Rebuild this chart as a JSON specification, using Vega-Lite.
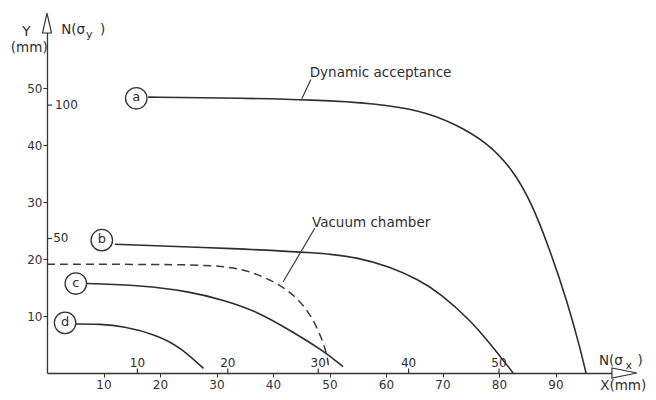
{
  "$schema": "https://vega.github.io/schema/vega-lite/v6.json",
  "autosize": "none",
  "width": 565,
  "height": 342,
  "padding": {"left": 47, "top": 31, "right": 44, "bottom": 27},
  "background": "white",
  "config": {
    "view": {"stroke": null},
    "font": "DejaVu Sans",
    "axis": {"grid": false, "domainColor": "#333", "tickColor": "#333", "labelColor": "#333", "labelFont": "DejaVu Sans", "labelFontSize": 12, "tickSize": 4, "domainWidth": 1.3, "title": null}
  },
  "datasets": {
    "curves": [
      {"curve": "a", "x": 17.9, "y": 48.4}, {"curve": "a", "x": 30, "y": 48.3}, {"curve": "a", "x": 48.3, "y": 47.9}, {"curve": "a", "x": 58, "y": 47.3}, {"curve": "a", "x": 66.0, "y": 46.1}, {"curve": "a", "x": 71.9, "y": 43.9}, {"curve": "a", "x": 77.9, "y": 40.5}, {"curve": "a", "x": 82.5, "y": 35.6}, {"curve": "a", "x": 85.8, "y": 29.8}, {"curve": "a", "x": 89.0, "y": 21.6}, {"curve": "a", "x": 92.0, "y": 12.8}, {"curve": "a", "x": 94.3, "y": 4.6}, {"curve": "a", "x": 95.4, "y": 0},
      {"curve": "b", "x": 12.0, "y": 22.6}, {"curve": "b", "x": 34.2, "y": 21.8}, {"curve": "b", "x": 48.0, "y": 21.1}, {"curve": "b", "x": 55.0, "y": 20.3}, {"curve": "b", "x": 60.7, "y": 18.6}, {"curve": "b", "x": 65.5, "y": 16.5}, {"curve": "b", "x": 69.6, "y": 14.0}, {"curve": "b", "x": 74.9, "y": 9.3}, {"curve": "b", "x": 78.9, "y": 4.6}, {"curve": "b", "x": 82.5, "y": 0},
      {"curve": "c", "x": 7.0, "y": 15.7}, {"curve": "c", "x": 16.5, "y": 15.4}, {"curve": "c", "x": 25.3, "y": 14.3}, {"curve": "c", "x": 31.2, "y": 12.8}, {"curve": "c", "x": 37.2, "y": 10.8}, {"curve": "c", "x": 43.0, "y": 7.5}, {"curve": "c", "x": 48.8, "y": 4.0}, {"curve": "c", "x": 52.4, "y": 1.1},
      {"curve": "d", "x": 5.0, "y": 8.6}, {"curve": "d", "x": 9.4, "y": 8.6}, {"curve": "d", "x": 13.5, "y": 8.2}, {"curve": "d", "x": 19.4, "y": 6.7}, {"curve": "d", "x": 23.5, "y": 4.6}, {"curve": "d", "x": 27.7, "y": 0.8}
    ],
    "vacuum": [
      {"x": 0, "y": 19.1}, {"x": 20, "y": 19.05}, {"x": 31.8, "y": 18.9}, {"x": 37.1, "y": 17.5}, {"x": 42.4, "y": 14.9}, {"x": 46.0, "y": 11.4}, {"x": 48.3, "y": 7.0}, {"x": 49.5, "y": 3.5}, {"x": 49.8, "y": 1.4}
    ],
    "leaders": [
      {"x": 46.7, "y": 51.5, "x2": 45.1, "y2": 48.1},
      {"x": 47.4, "y": 25.4, "x2": 41.8, "y2": 16.0}
    ],
    "tags": [
      {"tag": "a", "x": 15.8, "y": 48.2},
      {"tag": "b", "x": 9.7, "y": 23.3},
      {"tag": "c", "x": 5.1, "y": 15.7},
      {"tag": "d", "x": 3.2, "y": 8.8}
    ],
    "notes": [
      {"t": "Y", "x": -4.4, "y": 59.8},
      {"t": "(mm)", "x": -6.4, "y": 57.0},
      {"t": "N(σ", "x": 2.5, "y": 60.2},
      {"t": ")", "x": 9.4, "y": 60.2},
      {"t": "N(σ", "x": 97.7, "y": 2.1},
      {"t": ")", "x": 104.5, "y": 2.1},
      {"t": "X(mm)", "x": 97.9, "y": -2.3},
      {"t": "Dynamic acceptance", "x": 46.5, "y": 52.6},
      {"t": "Vacuum chamber", "x": 46.9, "y": 26.4}
    ],
    "subs": [
      {"t": "y", "x": 6.9, "y": 59.3},
      {"t": "x", "x": 102.4, "y": 1.3}
    ],
    "nx": [
      {"n": "10", "x": 16, "y": 0, "y2": 0.8, "ly": 1.75},
      {"n": "20", "x": 32, "y": 0, "y2": 0.8, "ly": 1.75},
      {"n": "30", "x": 48, "y": 0, "y2": 0.8, "ly": 1.75},
      {"n": "40", "x": 64, "y": 0, "y2": 0.8, "ly": 1.75},
      {"n": "50", "x": 80, "y": 0, "y2": 0.8, "ly": 1.75}
    ],
    "ny": [
      {"n": "100", "x": 0, "x2": 0.9, "lx": 1.4, "y": 47.0},
      {"n": "50", "x": 0, "x2": 0.9, "lx": 1.1, "y": 23.6}
    ],
    "xarrow": [{"x": 102.2, "y": 0}],
    "yarrow": [{"x": 0, "y": 61.4}]
  },
  "encoding": {
    "x": {"field": "x", "type": "quantitative", "scale": {"domain": [0, 100], "nice": false, "zero": false}, "axis": {"values": [10, 20, 30, 40, 50, 60, 70, 80, 90], "labelPadding": 2}},
    "y": {"field": "y", "type": "quantitative", "scale": {"domain": [0, 60], "nice": false, "zero": false}, "axis": {"values": [10, 20, 30, 40, 50], "labelPadding": 1}}
  },
  "layer": [
    {"data": {"name": "curves"}, "mark": {"type": "line", "color": "#2e2e2e", "strokeWidth": 1.6, "interpolate": "basis"}, "encoding": {"detail": {"field": "curve"}}},
    {"data": {"name": "vacuum"}, "mark": {"type": "line", "color": "#3a3a3a", "strokeWidth": 1.5, "strokeDash": [8, 5], "interpolate": "basis"}, "encoding": {}},
    {"data": {"name": "leaders"}, "mark": {"type": "rule", "color": "#3a3a3a", "strokeWidth": 1.2}, "encoding": {"x2": {"field": "x2"}, "y2": {"field": "y2"}}},
    {"data": {"name": "tags"}, "mark": {"type": "point", "shape": "circle", "size": 460, "filled": true, "fill": "white", "stroke": "#333", "strokeWidth": 1.3, "opacity": 1}, "encoding": {}},
    {"data": {"name": "tags"}, "mark": {"type": "text", "fontSize": 13, "color": "#2e2e2e", "baseline": "middle", "align": "center", "dy": -1}, "encoding": {"text": {"field": "tag"}}},
    {"data": {"name": "notes"}, "mark": {"type": "text", "fontSize": 13.5, "color": "#2e2e2e", "baseline": "middle", "align": "left"}, "encoding": {"text": {"field": "t"}}},
    {"data": {"name": "subs"}, "mark": {"type": "text", "fontSize": 11, "color": "#2e2e2e", "baseline": "middle", "align": "left"}, "encoding": {"text": {"field": "t"}}},
    {"data": {"name": "nx"}, "mark": {"type": "rule", "color": "#333", "strokeWidth": 1.2}, "encoding": {"y2": {"field": "y2"}}},
    {"data": {"name": "nx"}, "mark": {"type": "text", "fontSize": 12, "color": "#2e2e2e", "baseline": "middle", "align": "center"}, "encoding": {"y": {"field": "ly", "type": "quantitative"}, "text": {"field": "n"}}},
    {"data": {"name": "ny"}, "mark": {"type": "rule", "color": "#333", "strokeWidth": 1.2}, "encoding": {"x2": {"field": "x2"}}},
    {"data": {"name": "ny"}, "mark": {"type": "text", "fontSize": 12, "color": "#2e2e2e", "baseline": "middle", "align": "left"}, "encoding": {"x": {"field": "lx", "type": "quantitative"}, "text": {"field": "n"}}},
    {"data": {"name": "xarrow"}, "mark": {"type": "point", "shape": "M -1 -0.4 L 1 0 L -1 0.4 Z", "size": 625, "filled": true, "fill": "white", "stroke": "#333", "strokeWidth": 1.2, "opacity": 1}, "encoding": {}},
    {"data": {"name": "yarrow"}, "mark": {"type": "point", "shape": "M -0.45 1 L 0 -1 L 0.45 1 Z", "size": 400, "filled": true, "fill": "white", "stroke": "#333", "strokeWidth": 1.2, "opacity": 1}, "encoding": {}}
  ]
}
